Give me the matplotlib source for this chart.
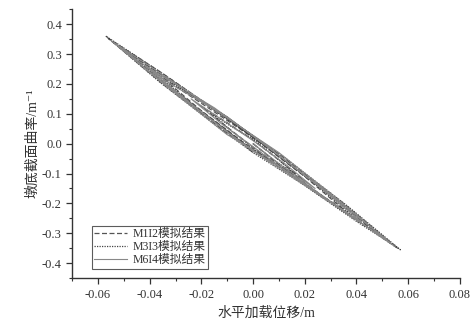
import matplotlib.pyplot as plt
from matplotlib.ticker import MultipleLocator, FormatStrFormatter

plt.rcParams['font.family'] = ['Liberation Serif', 'Noto Sans CJK SC', 'DejaVu Sans']
plt.rcParams['axes.unicode_minus'] = True

# hysteresis loops (displacement m, curvature 1/m)
m1i2_x = [0, 0.01, 0.02, 0.01, 0, -0.01, -0.02, -0.01, 0,
          0.012, 0.024, 0.035, 0.02, 0, -0.02, -0.035, -0.02, 0,
          0.015, 0.03, 0.047, 0.03, 0.01, -0.01, -0.03, -0.047, -0.03, -0.01, 0,
          0.02, 0.04, 0.056, 0.035, 0.01, -0.015, -0.035, -0.056, -0.035, -0.01, 0]
m1i2_y = [0, -0.07, -0.125, -0.055, 0.012, 0.07, 0.125, 0.055, -0.012,
          -0.085, -0.16, -0.22, -0.11, 0.02, 0.135, 0.22, 0.11, -0.02,
          -0.1, -0.195, -0.295, -0.17, -0.04, 0.085, 0.2, 0.295, 0.17, 0.04, -0.02,
          -0.135, -0.255, -0.35, -0.2, -0.035, 0.115, 0.235, 0.352, 0.2, 0.035, -0.025]

m3i3_x = [0, 0.008, 0.016, 0.008, 0, -0.008, -0.016, -0.008, 0,
          0.013, 0.026, 0.038, 0.022, 0.002, -0.018, -0.038, -0.022, -0.002,
          0.016, 0.033, 0.05, 0.03, 0.008, -0.012, -0.032, -0.05, -0.03, -0.008, 0,
          0.02, 0.04, 0.057, 0.036, 0.012, -0.014, -0.036, -0.057, -0.036, -0.012, 0]
m3i3_y = [0, -0.055, -0.1, -0.04, 0.015, 0.055, 0.1, 0.04, -0.015,
          -0.095, -0.175, -0.238, -0.12, 0.01, 0.13, 0.238, 0.12, -0.01,
          -0.11, -0.215, -0.312, -0.175, -0.03, 0.095, 0.21, 0.315, 0.175, 0.03, -0.03,
          -0.14, -0.26, -0.355, -0.205, -0.045, 0.11, 0.24, 0.36, 0.205, 0.045, -0.03]

m6i4_x = [0, 0.012, 0.024, 0.012, 0, -0.012, -0.024, -0.012, 0,
          0.014, 0.028, 0.042, 0.025, 0.005, -0.015, -0.042, -0.025, -0.005,
          0.018, 0.036, 0.052, 0.032, 0.01, -0.01, -0.032, -0.052, -0.032, -0.01, 0,
          0.02, 0.04, 0.055, 0.034, 0.01, -0.016, -0.034, -0.055, -0.034, -0.01, 0]
m6i4_y = [0, -0.08, -0.15, -0.065, 0.01, 0.08, 0.15, 0.065, -0.01,
          -0.1, -0.185, -0.262, -0.14, -0.005, 0.12, 0.262, 0.14, 0.005,
          -0.12, -0.23, -0.325, -0.185, -0.04, 0.09, 0.2, 0.325, 0.185, 0.04, -0.025,
          -0.14, -0.255, -0.345, -0.195, -0.03, 0.12, 0.225, 0.345, 0.195, 0.03, -0.02]

labels = ["M1I2模拟结果", "M3I3模拟结果", "M6I4模拟结果"]

fig = plt.figure(figsize=(4.75, 3.28), dpi=100)
ax = fig.add_axes([0.152, 0.152, 0.816, 0.82])

ax.plot(m1i2_x, m1i2_y, linestyle=(0, (4, 2)), color='#555555', lw=0.9, label=labels[0])
ax.plot(m3i3_x, m3i3_y, linestyle=(0, (1, 1)), color='#444444', lw=0.9, label=labels[1])
ax.plot(m6i4_x, m6i4_y, linestyle='-', color='#888888', lw=0.8, label=labels[2])

ax.set_xlim(-0.07, 0.08)
ax.set_ylim(-0.45, 0.45)
ax.xaxis.set_major_locator(MultipleLocator(0.02))
ax.xaxis.set_minor_locator(MultipleLocator(0.01))
ax.yaxis.set_major_locator(MultipleLocator(0.1))
ax.yaxis.set_minor_locator(MultipleLocator(0.05))
ax.xaxis.set_major_formatter(FormatStrFormatter('%.2f'))
ax.yaxis.set_major_formatter(FormatStrFormatter('%.1f'))

ax.spines['top'].set_visible(False)
ax.spines['right'].set_visible(False)
for s in ['left', 'bottom']:
    ax.spines[s].set_color('#333333')
    ax.spines[s].set_linewidth(1.0)
ax.tick_params(which='major', direction='out', length=4, width=0.9,
               colors='#333333', labelsize=9)
ax.tick_params(which='minor', direction='out', length=2.5, width=0.8, colors='#333333')

ax.set_xlabel("水平加载位移/m", fontsize=10, color='#333333', labelpad=4)
ax.set_ylabel("墩底截面曲率/m⁻¹", fontsize=10, color='#333333', labelpad=2)

leg = ax.legend(loc='lower left', bbox_to_anchor=(0.05, 0.035), fontsize=8.5,
                frameon=True, fancybox=False, handlelength=2.8, borderpad=0.2,
                labelspacing=0.1, handletextpad=0.5, borderaxespad=0)
leg.get_frame().set_edgecolor('#333333')
leg.get_frame().set_linewidth(0.8)
for t in leg.get_texts():
    t.set_color('#333333')

fig.savefig("out.png", dpi=100)
